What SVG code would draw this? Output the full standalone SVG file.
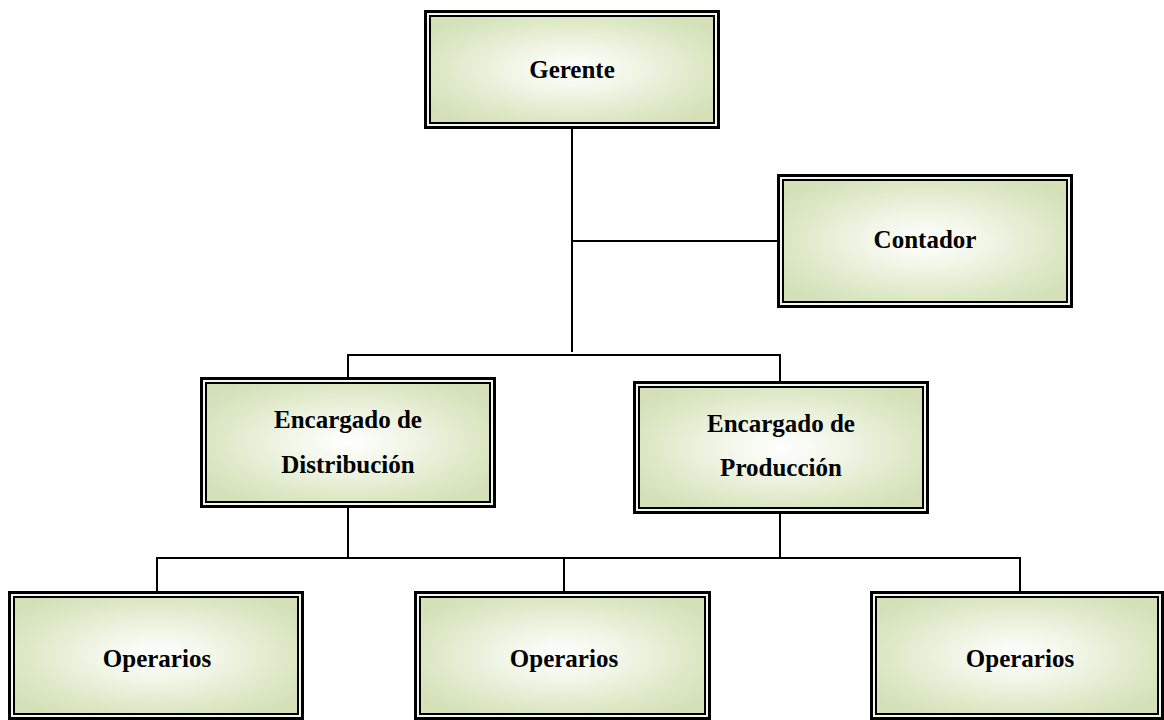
<svg xmlns="http://www.w3.org/2000/svg" width="1164" height="720" viewBox="0 0 1164 720">
  <defs>
    <radialGradient id="boxFill" cx="0.5" cy="0.5" r="0.62">
      <stop offset="0" stop-color="#ffffff"/>
      <stop offset="0.3" stop-color="#f3f7ea"/>
      <stop offset="0.75" stop-color="#dde8c6"/>
      <stop offset="1" stop-color="#d3e0b8"/>
    </radialGradient>
  </defs>
  <style>
    .outer { fill: #f4f7ec; stroke: #000; stroke-width: 3; }
    .inner { fill: url(#boxFill); stroke: #000; stroke-width: 2; }
    .label { font-family: "Liberation Serif", "Times New Roman", serif; font-weight: bold; font-size: 25px; fill: #000; text-anchor: middle; }
    .wire { fill: none; stroke: #000; stroke-width: 2; }
  </style>
  <rect width="1164" height="720" fill="#ffffff"/>

  <!-- connectors -->
  <g id="connectors">
    <path class="wire" d="M572 128 V352"/>
    <path class="wire" d="M572 241 H777"/>
    <path class="wire" d="M348 377 V355 H780 V381"/>
    <path class="wire" d="M348 507 V558"/>
    <path class="wire" d="M780 513 V558"/>
    <path class="wire" d="M157 591 V558 H1020 V591"/>
    <path class="wire" d="M564 558 V591"/>
  </g>

  <!-- nodes: outer frame + inner frame + label -->
  <g id="gerente">
    <rect class="outer" x="425.5" y="11.5" width="293" height="116"/>
    <rect class="inner" x="430" y="16" width="284" height="107"/>
    <text class="label" x="572" y="78">Gerente</text>
  </g>

  <g id="contador">
    <rect class="outer" x="778.5" y="175.5" width="293" height="131"/>
    <rect class="inner" x="783" y="180" width="284" height="122"/>
    <text class="label" x="925" y="248">Contador</text>
  </g>

  <g id="encargado-distribucion">
    <rect class="outer" x="201.5" y="378.5" width="293" height="128"/>
    <rect class="inner" x="206" y="383" width="284" height="119"/>
    <text class="label" x="348" y="428">Encargado de</text>
    <text class="label" x="348" y="473">Distribución</text>
  </g>

  <g id="encargado-produccion">
    <rect class="outer" x="634.5" y="382.5" width="293" height="130"/>
    <rect class="inner" x="639" y="387" width="284" height="121"/>
    <text class="label" x="781" y="432">Encargado de</text>
    <text class="label" x="781" y="476">Producción</text>
  </g>

  <g id="operarios-1">
    <rect class="outer" x="9.5" y="592.5" width="293" height="126"/>
    <rect class="inner" x="14" y="597" width="284" height="117"/>
    <text class="label" x="157" y="667">Operarios</text>
  </g>

  <g id="operarios-2">
    <rect class="outer" x="415.5" y="592.5" width="294" height="126"/>
    <rect class="inner" x="420" y="597" width="285" height="117"/>
    <text class="label" x="564" y="667">Operarios</text>
  </g>

  <g id="operarios-3">
    <rect class="outer" x="871.5" y="592.5" width="291" height="126"/>
    <rect class="inner" x="876" y="597" width="282" height="117"/>
    <text class="label" x="1020" y="667">Operarios</text>
  </g>
</svg>
